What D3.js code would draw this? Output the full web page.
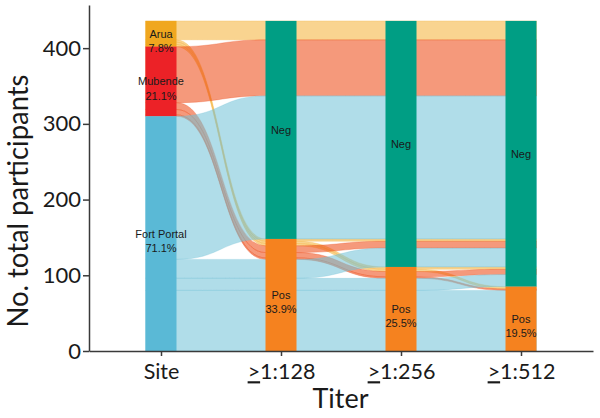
<!DOCTYPE html>
<html><head><meta charset="utf-8">
<script src="https://cdn.jsdelivr.net/npm/d3@7"></script>
<style>body{margin:0;background:#fff}</style>
</head><body><svg id="c" width="600" height="418"></svg>
<script>
// ---- data ----
const axisNames = ["Site", "1:128", "1:256", "1:512"];
const axisPrefix = ["", ">", ">", ">"];
const siteNames = ["Arua", "Mubende", "Fort Portal"];
const sitePercents = ["7.8%", "21.1%", "71.1%"];
const titerStrata = ["Neg", "Pos"];
const posPercents = ["33.9%", "25.5%", "19.5%"];
const patterns = ["NNN", "PNN", "PPN", "PPP"];   // status at 1:128, 1:256, 1:512
const aruaCounts = [25, 3, 3, 3];
const mubendeCounts = [74, 9, 7, 2];
const fortPortalCounts = [189, 25, 16, 80];
const yTicks = [0, 100, 200, 300, 400];

// ---- styles ----
const siteColors = ["#F0A71F", "#EC2227", "#5AB9D6"];
const flowColors = ["#F4B135", "#ED450F", "#6FC1D7"];
const titerColors = ["#009E84", "#F5821F"];
const flowAlpha = 0.55;

const svg = d3.select("#c");
const y = d3.scaleLinear().domain([0, 457]).range([351, 5]);
const x = d3.scaleLinear().domain([-0.6, 3.6]).range([89, 593]);
const barW = 31;

// build alluvia
const siteCounts = [aruaCounts, mubendeCounts, fortPortalCounts];
const alluvia = [];
siteCounts.forEach((counts, s) => {
  patterns.forEach((p, k) => {
    alluvia.push({site: s, v: [s, ...p.split("").map(c => c === "N" ? 0 : 1)], n: counts[k]});
  });
});
const total = d3.sum(alluvia, d => d.n);

// sort keys per axis (current axis, then previous axes nearest-first, then later axes)
const keyOrder = [[0,1,2,3],[1,0,2,3],[2,1,0,3],[3,2,1,0]];
const lodes = alluvia.map(() => []);
keyOrder.forEach((ko, ai) => {
  const idx = d3.range(alluvia.length).sort((a, b) => {
    for (const k of ko) { const d = alluvia[a].v[k] - alluvia[b].v[k]; if (d) return d; }
    return 0;
  });
  let top = total;
  idx.forEach(i => { lodes[i][ai] = {top: top, bot: top - alluvia[i].n}; top -= alluvia[i].n; });
});

// flows
function flowPath(L) {
  const p = d3.path();
  const n = L.length;
  p.moveTo(x(0) - barW/2, y(L[0].top));
  p.lineTo(x(0) + barW/2, y(L[0].top));
  for (let i = 1; i < n; i++) {
    const x0 = x(i-1) + barW/2, x1 = x(i) - barW/2, xm = (x0 + x1)/2;
    p.bezierCurveTo(xm, y(L[i-1].top), xm, y(L[i].top), x1, y(L[i].top));
    p.lineTo(x(i) + barW/2, y(L[i].top));
  }
  p.lineTo(x(n-1) + barW/2, y(L[n-1].bot));
  p.lineTo(x(n-1) - barW/2, y(L[n-1].bot));
  for (let i = n-1; i > 0; i--) {
    const x0 = x(i-1) + barW/2, x1 = x(i) - barW/2, xm = (x0 + x1)/2;
    p.bezierCurveTo(xm, y(L[i].bot), xm, y(L[i-1].bot), x0, y(L[i-1].bot));
    p.lineTo(x(i-1) - barW/2, y(L[i-1].bot));
  }
  p.closePath();
  return p.toString();
}
svg.append("g").selectAll("path").data(alluvia).join("path")
  .attr("d", (d, i) => flowPath(lodes[i]))
  .attr("fill", d => flowColors[d.site]).attr("fill-opacity", flowAlpha)
  .attr("stroke", d => flowColors[d.site]).attr("stroke-opacity", 0.45).attr("stroke-width", 0.6);

// strata
const strata = [];
for (let ai = 0; ai < 4; ai++) {
  const groups = ai === 0 ? [0,1,2] : [0,1];
  let top = total;
  groups.forEach(g => {
    const n = d3.sum(alluvia.filter(a => a.v[ai] === g), a => a.n);
    let label, sub, color;
    if (ai === 0) { label = siteNames[g]; sub = sitePercents[g]; color = siteColors[g]; }
    else { label = titerStrata[g]; sub = g === 1 ? posPercents[ai-1] : null; color = titerColors[g]; }
    strata.push({ai, top, bot: top - n, label, sub, color});
    top -= n;
  });
}
svg.append("g").selectAll("rect").data(strata).join("rect")
  .attr("x", d => x(d.ai) - barW/2).attr("width", barW)
  .attr("y", d => y(d.top)).attr("height", d => y(d.bot) - y(d.top))
  .attr("fill", d => d.color);

const lab = svg.append("g").attr("font-family", "'Liberation Sans', Arial, sans-serif")
  .attr("font-size", 11).attr("fill", "#1a1a1a").attr("text-anchor", "middle");
strata.forEach(d => {
  const cy = (y(d.top) + y(d.bot)) / 2;
  const t = lab.append("text").attr("x", x(d.ai)).attr("y", cy + 4);
  t.append("tspan").attr("x", x(d.ai)).text(d.label);
  if (d.sub) t.append("tspan").attr("x", x(d.ai)).attr("dy", 14.5).text(d.sub);
});

// axes
const axisColor = "#3a3a3a";
const gy = svg.append("g").attr("transform", `translate(${x.range()[0]},0)`)
  .call(d3.axisLeft(y).tickValues(yTicks).tickSize(6).tickSizeOuter(0).tickPadding(2));
const gx = svg.append("g").attr("transform", `translate(0,${y(0)})`)
  .call(d3.axisBottom(x).tickValues(d3.range(axisNames.length)).tickSize(5).tickSizeOuter(0).tickPadding(8)
    .tickFormat(i => axisNames[i]));
[gy, gx].forEach(g => {
  g.select(".domain").attr("stroke", axisColor).attr("stroke-width", 1.5);
  g.selectAll(".tick line").attr("stroke", axisColor).attr("stroke-width", 1.5);
  g.selectAll("text").attr("font-family", "Lato, 'Open Sans', sans-serif").attr("fill", "#1a1a1a");
});
gy.selectAll("text").attr("font-size", 22);
gx.selectAll("text").attr("font-size", 21.5);
gx.selectAll(".tick text").each(function(i) {
  const t = d3.select(this);
  t.text(null);
  if (axisPrefix[i]) t.append("tspan").style("text-decoration", "underline").text(axisPrefix[i]);
  t.append("tspan").text(axisNames[i]);
});

svg.append("text").attr("transform", "translate(28,201) rotate(-90)")
  .attr("text-anchor", "middle").attr("font-family", "Lato, 'Open Sans', sans-serif")
  .attr("font-size", 28).attr("textLength", 253).attr("lengthAdjust", "spacingAndGlyphs")
  .attr("fill", "#1a1a1a").text("No. total participants");
svg.append("text").attr("x", 340.5).attr("y", 408)
  .attr("text-anchor", "middle").attr("font-family", "Lato, 'Open Sans', sans-serif")
  .attr("font-size", 27).attr("fill", "#1a1a1a").text("Titer");
</script>
</body></html>
